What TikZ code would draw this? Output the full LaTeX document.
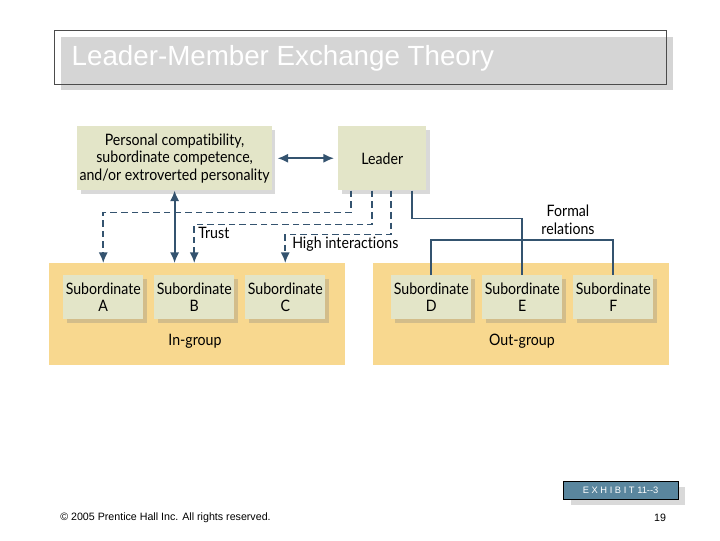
\documentclass[tikz,border=0pt]{standalone}
\usepackage{fontspec}
\setmainfont{Lato}[Ligatures=NoCommon, FakeStretch=0.9]
\newfontfamily\arialfont{Liberation Sans}
\usetikzlibrary{arrows.meta,shadows,calc}

\definecolor{sage}{HTML}{E3E5C8}
\definecolor{gold}{HTML}{F8D88F}
\definecolor{navy}{HTML}{34536F}
\definecolor{slate}{HTML}{5A869E}

\tikzset{
  box/.style={rectangle, fill=sage, align=center, inner sep=0pt, anchor=north west,
    drop shadow={shadow xshift=2.5pt, shadow yshift=-2.5pt, opacity=0.3},
    font=\fontsize{11.8}{13.2}\selectfont},
  grp/.style={rectangle, fill=gold, inner sep=0pt, anchor=north west},
  lbl/.style={font=\fontsize{11.8}{13.2}\selectfont, inner sep=0pt, align=center},
  link/.style={navy, line width=1.4pt},
  tie/.style={navy, line width=1.4pt, dash pattern=on 5pt off 3pt},
  tip/.style={-{Latex[length=8pt,width=7pt]}},
}

\begin{document}
\begin{tikzpicture}[x=0.75pt,y=-0.75pt]
\useasboundingbox (0,0) rectangle (720,540);

% title bar
\fill [gray!33] (61,37) rectangle (673,90);
\draw [black!70, line width=0.7pt] (54,30) rectangle (666,84);
\node (title) [anchor=west, text=white, font=\arialfont\fontsize{20.8}{24}\selectfont] at (67,58) {Leader-Member Exchange Theory};

% groups
\node (grpIn) [grp, minimum width=222pt, minimum height=76.5pt] at (49,263) {};
\node [lbl] at (195,341) {In-group};
\node (grpOut) [grp, minimum width=222pt, minimum height=76.5pt] at (373,263) {};
\node [lbl] at (522,341) {Out-group};

% top boxes
\node (pers) [box, minimum width=146pt, minimum height=48pt] at (77,126) {Personal compatibility,\\subordinate competence,\\and/or extroverted personality};
\node (lead) [box, minimum width=66pt, minimum height=48pt] at (338,126) {Leader};

% subordinates
\node (subA) [box, minimum width=60pt, minimum height=33pt] at (63,275) {Subordinate\\A};
\node (subB) [box, minimum width=60pt, minimum height=33pt] at (154,275) {Subordinate\\B};
\node (subC) [box, minimum width=60pt, minimum height=33pt] at (245,275) {Subordinate\\C};
\node (subD) [box, minimum width=60pt, minimum height=33pt] at (391,275) {Subordinate\\D};
\node (subE) [box, minimum width=60pt, minimum height=33pt] at (482,275) {Subordinate\\E};
\node (subF) [box, minimum width=60pt, minimum height=33pt] at (573,275) {Subordinate\\F};

% connectors
\draw [link, {Latex[length=8pt,width=7pt]}-{Latex[length=8pt,width=7pt]}, shorten <=4pt, shorten >=3pt] (pers.east) -- (lead.west);
\draw [link, {Latex[length=8pt,width=7pt]}-{Latex[length=8pt,width=7pt]}] (pers.south) -- (pers.south |- grpIn.north);
\draw [tie, tip] ($(lead.south west)+(13,0)$) -- ++(0,22) -| (subA |- grpIn.north);
\draw [tie, tip] ($(lead.south west)+(34,0)$) -- ++(0,34) -| (subB |- grpIn.north);
\draw [tie, tip] ($(lead.south west)+(53,0)$) -- ++(0,44) -| (subC |- grpIn.north);
\node (trust) [lbl, anchor=west] at (198,233) {Trust};
\node (high) [lbl, anchor=west] at (292,244) {High interactions};

\draw [link] ($(lead.south west)+(74,0)$) -- ++(0,28) -| (subE.north);
\draw [link, line width=1.8pt] (subD.north) -- ++(0,-35) -| (subF.north);
\node (formal) [lbl] at (568,220) {Formal\\relations};

% exhibit tag
\fill [gray!30] (571,487) rectangle (685,505);
\node (tag) [rectangle, draw=black, fill=slate, text=white, anchor=north west, inner sep=0pt,
  minimum width=86pt, minimum height=13.5pt, font=\arialfont\fontsize{7}{8}\selectfont] at (563,481) {E X H I B I T 11--3};

% footer
\node (copy) [anchor=west, inner sep=0pt, font=\arialfont\fontsize{8}{9}\selectfont] at (60,518) {\textcopyright{} 2005 Prentice Hall Inc. All rights reserved.};
\node (page) [inner sep=0pt, font=\arialfont\fontsize{8}{9}\selectfont] at (660,518) {19};
\end{tikzpicture}
\end{document}
